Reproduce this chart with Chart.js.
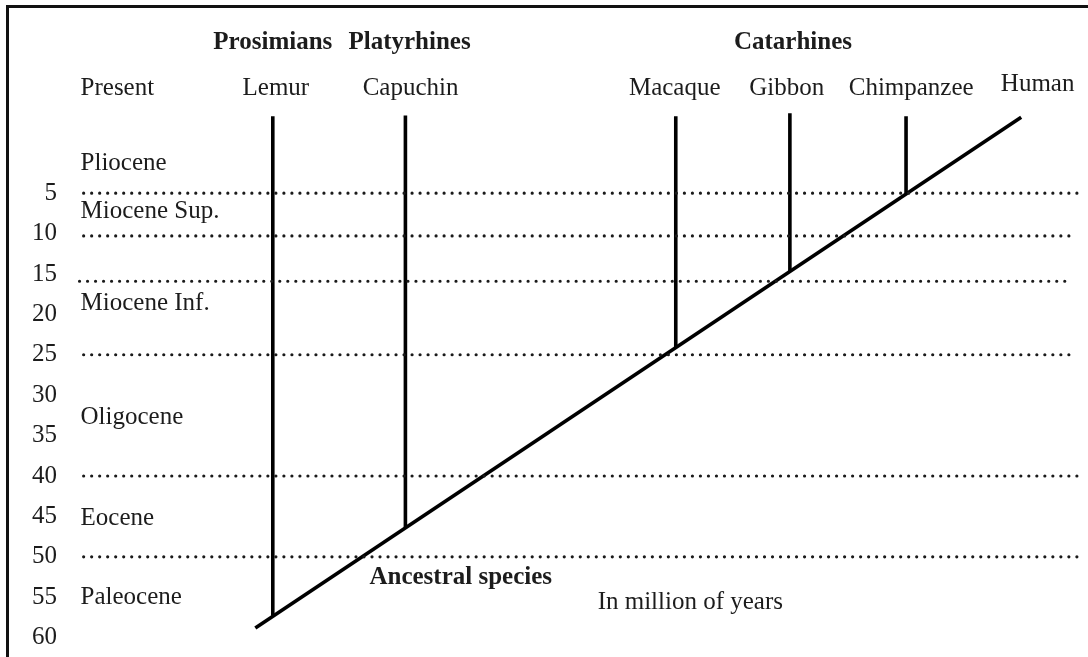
<!DOCTYPE html>
<html>
<head>
<meta charset="utf-8">
<script src="https://cdn.jsdelivr.net/npm/chart.js@4/dist/chart.umd.min.js"></script>
<style>
  html, body { margin: 0; padding: 0; background: #fff; }
  #wrap { position: relative; width: 1088px; height: 657px; overflow: hidden; }
  #frame { position: absolute; left: 6px; top: 5px; width: 1082px; height: 652px;
           border-left: 3px solid #111; border-top: 3px solid #111; box-sizing: border-box; }
  #arbol { position: absolute; left: 0; top: 0; }
</style>
</head>
<body>
<div id="wrap">
  <div id="frame"></div>
  <canvas id="arbol" width="1088" height="657"></canvas>
</div>
<script>
// Arbol filogenetico de primates (millones de anios)

// ramas: taxon, posicion horizontal (0-100), punta y base (My)
const taxa = ['Lemur', 'Capuchin', 'Macaque', 'Gibbon', 'Chimpanzee'];
const taxonX = [20.7, 33.6, 59.9, 71.0, 82.3];
const branchTop = [-4.5, -4.6, -4.5, -4.9, -4.5];
const branchBase = [57.3, 46.4, 24.1, 14.7, 5.1];

// tronco (especie ancestral -> humano)
const trunkX = [19.0, 93.5];
const trunkY = [58.8, -4.4];

// limites entre epocas (lineas punteadas)
const boundaryYears = [5, 10.3, 15.9, 25, 40, 50];
const boundaryStart = [2.3, 2.3, 1.9, 2.3, 2.3, 2.3];
const boundaryEnd = [99.0, 98.8, 98.4, 98.8, 99.0, 99.0];

// eje de anios
const yearTicks = [5, 10, 15, 20, 25, 30, 35, 40, 45, 50, 55, 60];

// epocas
const epochs = ['Present', 'Pliocene', 'Miocene Sup.', 'Miocene Inf.', 'Oligocene', 'Eocene', 'Paleocene'];
const epochY = [-8.0, 1.3, 7.3, 18.6, 32.8, 45.2, 55.0];
const epochX = 2.0;

// nombres de especies arriba
const speciesNames = ['Lemur', 'Capuchin', 'Macaque', 'Gibbon', 'Chimpanzee', 'Human'];
const speciesX = [21.0, 34.1, 59.8, 70.7, 82.8, 95.1];
const speciesY = [-8.0, -8.0, -8.0, -8.0, -8.0, -8.4];

// grupos
const groups = ['Prosimians', 'Platyrhines', 'Catarhines'];
const groupX = [20.7, 34.0, 71.3];
const groupY = -13.6;

// notas
const notes = ['Ancestral species', 'In million of years'];
const noteX = [30.1, 52.3];
const noteY = [52.6, 55.6];
const noteBold = [true, false];

const SERIF = '"Liberation Serif", "Times New Roman", "DejaVu Serif", serif';
const INK = '#1c1c1c';
const FS = 25;

// --- datasets ---
let datasets = [];

// lineas punteadas (puntos redondos)
for (let i = 0; i < boundaryYears.length; i++) {
    datasets.push({
        data: [{ x: boundaryStart[i], y: boundaryYears[i] }, { x: boundaryEnd[i], y: boundaryYears[i] }],
        borderColor: '#1a1a1a',
        borderWidth: 3.2,
        borderDash: [0.01, 8],
        borderCapStyle: 'round',
        pointRadius: 0
    });
}

// ramas verticales
for (let i = 0; i < taxa.length; i++) {
    datasets.push({
        label: taxa[i],
        data: [{ x: taxonX[i], y: branchTop[i] }, { x: taxonX[i], y: branchBase[i] }],
        borderColor: '#000',
        borderWidth: 3.6,
        pointRadius: 0
    });
}

// tronco
datasets.push({
    label: 'Human',
    data: trunkX.map((x, i) => ({ x: x, y: trunkY[i] })),
    borderColor: '#000',
    borderWidth: 3.6,
    borderCapStyle: 'butt',
    pointRadius: 0
});

// textos sobre la grafica
const textosPlugin = {
    id: 'textos',
    afterDatasetsDraw(chart) {
        const ctx = chart.ctx;
        const sx = chart.scales.x, sy = chart.scales.y;
        ctx.save();
        ctx.fillStyle = INK;
        ctx.textBaseline = 'middle';

        ctx.font = FS + 'px ' + SERIF;
        ctx.textAlign = 'left';
        for (let i = 0; i < epochs.length; i++) {
            ctx.fillText(epochs[i], sx.getPixelForValue(epochX), sy.getPixelForValue(epochY[i]));
        }

        ctx.textAlign = 'center';
        for (let i = 0; i < speciesNames.length; i++) {
            ctx.fillText(speciesNames[i], sx.getPixelForValue(speciesX[i]), sy.getPixelForValue(speciesY[i]));
        }

        ctx.font = 'bold ' + FS + 'px ' + SERIF;
        for (let i = 0; i < groups.length; i++) {
            ctx.fillText(groups[i], sx.getPixelForValue(groupX[i]), sy.getPixelForValue(groupY));
        }

        ctx.textAlign = 'left';
        for (let i = 0; i < notes.length; i++) {
            ctx.font = (noteBold[i] ? 'bold ' : '') + FS + 'px ' + SERIF;
            ctx.fillText(notes[i], sx.getPixelForValue(noteX[i]), sy.getPixelForValue(noteY[i]));
        }
        ctx.restore();
    }
};

new Chart(document.getElementById('arbol'), {
    type: 'line',
    data: { datasets: datasets },
    options: {
        responsive: false,
        animation: false,
        devicePixelRatio: 1,
        layout: { padding: { left: 0, right: 0, top: 0, bottom: 0 } },
        plugins: { legend: { display: false }, tooltip: { enabled: false } },
        elements: { line: { tension: 0 } },
        scales: {
            x: { type: 'linear', min: 0, max: 100, display: false },
            y: {
                type: 'linear',
                reverse: true,
                min: -18.9,
                max: 62.4,
                afterFit(scale) {
                    scale.width = 60;
                    scale.paddingTop = 0;
                    scale.paddingBottom = 0;
                },
                afterBuildTicks(scale) { scale.ticks = yearTicks.map(v => ({ value: v })); },
                grid: { display: false, drawTicks: false },
                border: { display: false },
                ticks: {
                    padding: 3,
                    color: INK,
                    font: { family: SERIF, size: FS },
                    callback: v => String(v)
                }
            }
        }
    },
    plugins: [textosPlugin]
});
</script>
</body>
</html>
